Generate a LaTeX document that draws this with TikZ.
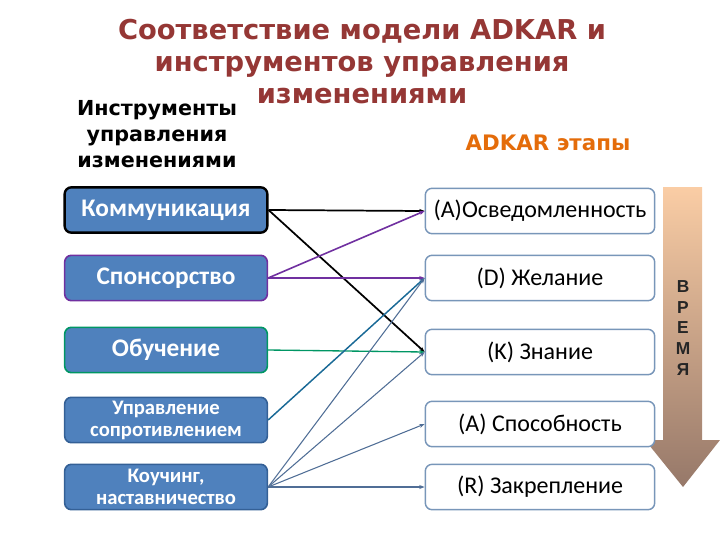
\documentclass[tikz,border=0pt]{standalone}
\usepackage{fontspec}
\setmainfont{Carlito}
\newfontfamily\verdfont{DejaVu Sans}
\newfontfamily\arialfont{Liberation Sans}
\usetikzlibrary{arrows.meta}
\definecolor{TitleRed}{RGB}{149,55,53}
\definecolor{StageOrange}{RGB}{228,108,10}
\definecolor{ToolBlue}{RGB}{79,129,189}
\definecolor{ToolEdge}{RGB}{52,96,150}
\definecolor{StageEdge}{RGB}{120,150,185}
\definecolor{LinkPurple}{RGB}{112,48,160}
\definecolor{LinkGreen}{RGB}{0,150,100}
\definecolor{LinkTeal}{RGB}{25,105,150}
\definecolor{LinkSlate}{RGB}{80,110,150}
\definecolor{TimeTop}{RGB}{250,205,165}
\definecolor{TimeBottom}{RGB}{150,120,105}

\begin{document}
\begin{tikzpicture}[x=0.75pt,y=-0.75pt,>={Stealth[length=4pt,width=3pt]},
  tool/.style={draw=ToolEdge,line width=1.2pt,fill=ToolBlue,rounded corners=5pt,
    minimum width=152pt,minimum height=34pt,text=white,align=center,inner sep=1pt},
  stage/.style={draw=StageEdge,line width=1.1pt,fill=white,rounded corners=5pt,
    minimum width=172pt,minimum height=34pt,align=center,
    font=\fontsize{18}{20}\selectfont},
  link/.style={->,line width=0.8pt}]
  \useasboundingbox (0,0) rectangle (720,540);
  % time arrow
  \shade[top color=TimeTop,bottom color=TimeBottom]
    (663,187) -- (702,187) -- (702,440) -- (720,440) -- (683,487) -- (645,440) -- (663,440) -- cycle;
  \node[font=\arialfont\bfseries\fontsize{13}{15.5}\selectfont,align=center,text=black!85] (time) at (683,328) {В\\Р\\Е\\М\\Я};
  % headings
  \node[font=\verdfont\bfseries\fontsize{20.5}{24}\selectfont,text=TitleRed,align=center] (title) at (362,62)
    {Соответствие модели ADKAR и\\инструментов управления\\изменениями};
  \node[font=\verdfont\bfseries\fontsize{15.5}{19.5}\selectfont,align=center] (toolhead) at (157,134)
    {Инструменты\\управления\\изменениями};
  \node[font=\verdfont\bfseries\fontsize{16}{18}\selectfont,text=StageOrange] (stagehead) at (548,143) {ADKAR этапы};
  % tools
  \node[tool,draw=black,line width=1.8pt,font=\bfseries\fontsize{19}{21}\selectfont] (komm) at (166,210) {Коммуникация};
  \node[tool,draw=LinkPurple,font=\bfseries\fontsize{19}{21}\selectfont] (spons) at (166,278) {Спонсорство};
  \node[tool,draw=LinkGreen,font=\bfseries\fontsize{19}{21}\selectfont] (obuch) at (166,350) {Обучение};
  \node[tool,font=\bfseries\fontsize{15.5}{16.5}\selectfont] (uprav) at (166,420) {Управление\\сопротивлением};
  \node[tool,font=\bfseries\fontsize{15.5}{16.5}\selectfont] (kouch) at (166,487) {Коучинг,\\наставничество};
  % stages
  \node[stage] (aware) at (540,211) {(A)Осведомленность};
  \node[stage] (desire) at (540,278) {(D) Желание};
  \node[stage] (know) at (540,352) {(K) Знание};
  \node[stage] (abil) at (540,424) {(A) Способность};
  \node[stage] (reinf) at (540,487) {(R) Закрепление};
  % links
  \foreach \a/\b/\c/\w in {komm/aware/black/1.3pt,komm/know/black/1.3pt,
      spons/aware/LinkPurple/1.2pt,spons/desire/LinkPurple/1.2pt,
      obuch/know/LinkGreen/1pt,uprav/desire/LinkTeal/1.1pt,
      kouch/desire/LinkSlate/0.8pt,kouch/know/LinkSlate/0.8pt,
      kouch/abil/LinkSlate/0.8pt,kouch/reinf/LinkSlate/0.8pt}
    \draw[link,\c,line width=\w] (\a.east) -- (\b.west);
\end{tikzpicture}
\end{document}
